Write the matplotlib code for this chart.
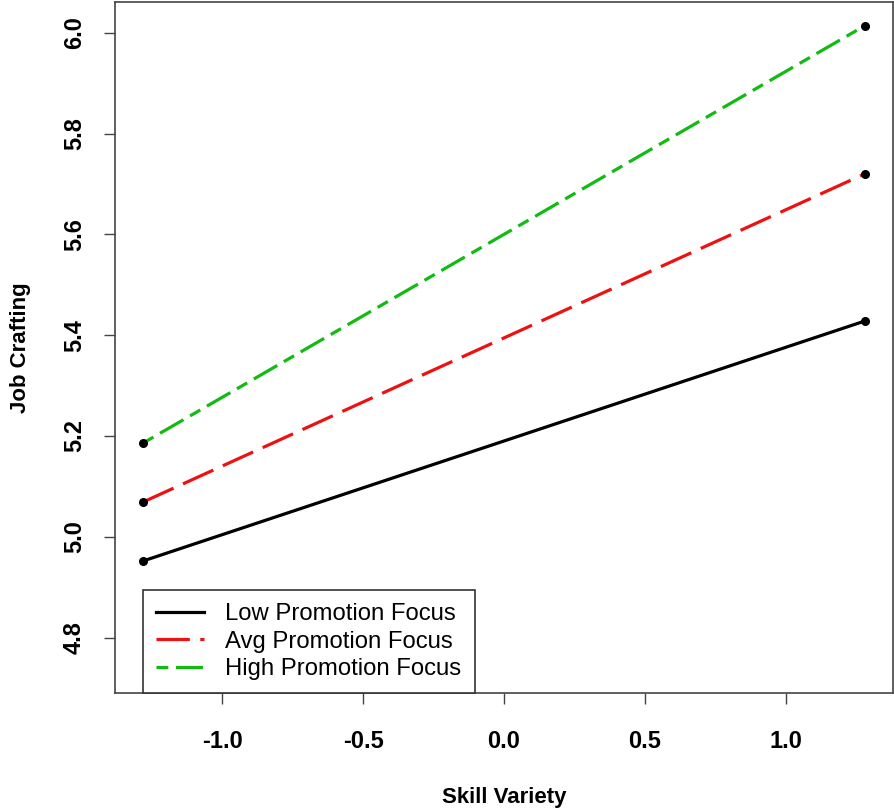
import matplotlib
matplotlib.use("Agg")
import matplotlib.pyplot as plt

plt.rcParams['font.family'] = ['Liberation Sans', 'DejaVu Sans']
plt.rcParams['lines.scale_dashes'] = False

# simple slopes at -1 SD / +1 SD of skill variety
skill = [-1.28, 1.28]
low_focus = [4.952, 5.428]
avg_focus = [5.069, 5.720]
high_focus = [5.186, 6.014]

labels = ['Low Promotion Focus', 'Avg Promotion Focus', 'High Promotion Focus']
colors = ['black', '#ee1111', '#11bb11']
dashes = [None, (24, 7.5), (8.5, 5.5, 19.5, 5.5)]

xticks = [-1.0, -0.5, 0.0, 0.5, 1.0]
yticks = [4.8, 5.0, 5.2, 5.4, 5.6, 5.8, 6.0]

fig = plt.figure(figsize=(8.95, 8.08), dpi=100)
ax = fig.add_axes([115/895, 1 - 693/808, 778/895, 691/808])

for ys, lab, col, d in zip([low_focus, avg_focus, high_focus], labels, colors, dashes):
    line, = ax.plot(skill, ys, color=col, lw=2.3, label=lab)
    if d is not None:
        line.set_dashes(d)
    ax.plot(skill, ys, 'o', color='black', ms=5.5, zorder=3)

ax.set_xlim(-1.38, 1.38)
ax.set_ylim(4.69, 6.061)
ax.set_xticks(xticks)
ax.set_xticklabels(['%.1f' % v for v in xticks])
ax.set_yticks(yticks)
ax.set_yticklabels(['%.1f' % v for v in yticks], rotation=90, va='center')

for s in ax.spines.values():
    s.set_color('#444444')
    s.set_linewidth(1.2)
ax.tick_params(axis='both', direction='out', length=8, width=1, color='#444444',
               labelsize=17)
ax.tick_params(axis='x', pad=19)
ax.tick_params(axis='y', pad=13)
for t in ax.get_xticklabels() + ax.get_yticklabels():
    t.set_fontweight('bold')

ax.set_xlabel('Skill Variety', fontsize=16, fontweight='bold')
ax.xaxis.set_label_coords(0.5, -0.136)
ax.set_ylabel('Job Crafting', fontsize=16, fontweight='bold')
ax.yaxis.set_label_coords(-0.108, 0.5)

leg = ax.legend(loc='lower left', bbox_to_anchor=(0.036, 0.0), fontsize=17.2,
                frameon=True, fancybox=False, framealpha=1, edgecolor='#333333',
                handlelength=2.0, handletextpad=0.9, labelspacing=0.22,
                borderpad=0.55, borderaxespad=0)
leg.get_frame().set_linewidth(1.2)

fig.savefig('out.png', dpi=100)
